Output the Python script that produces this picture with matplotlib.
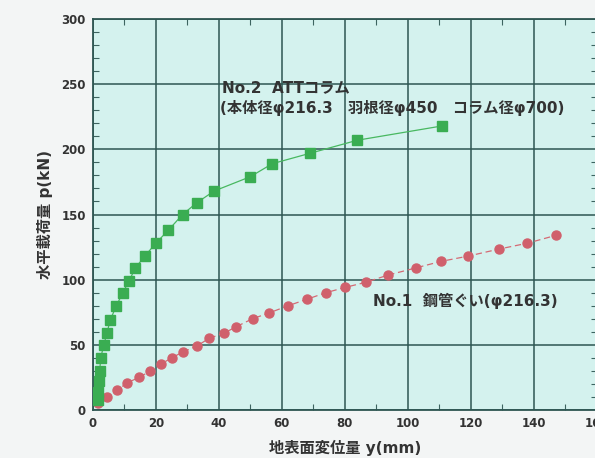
import matplotlib.pyplot as plt
import numpy as np
from matplotlib.ticker import MultipleLocator

plt.rcParams['font.family'] = ['DejaVu Sans', 'Noto Sans CJK JP']

# No.2 ATT column (green squares)
att_y = [1.5, 1.8, 2.0, 2.2, 2.5, 3.5, 4.5, 5.5, 7.5, 9.5, 11.5, 13.5, 16.5,
         20, 24, 28.5, 33, 38.5, 50, 57, 69, 84, 111]
att_p = [8, 14, 22, 30, 40, 50, 59, 69, 80, 90, 99, 109, 118,
         128, 138, 150, 159, 168, 179, 189, 197, 207, 218]

# No.1 steel pipe pile (red circles)
pipe_y = [1.5, 4.6, 7.6, 11, 14.7, 18.3, 21.5, 25, 28.6, 33, 36.9, 41.7, 45.6,
          50.7, 56, 62, 68, 74, 80, 86.7, 93.7, 102.5, 110.5, 119, 129, 138, 147]
pipe_p = [5, 10, 15, 21, 25, 30, 35, 40, 44.5, 49, 55, 59, 64,
          70, 74.5, 80, 85, 90, 94, 98, 103.5, 109, 114, 118, 123.5, 128, 134]

fig = plt.figure(figsize=(5.95, 4.58), dpi=100)
fig.patch.set_facecolor('#f3f5f5')
ax = fig.add_axes([0.156, 0.1048, 0.847, 0.8537])
ax.set_facecolor('#d4f2ee')

ax.plot(pipe_y, pipe_p, color='#d46a74', lw=0.9, ls=(0, (5, 3)),
        marker='o', ms=6.5, mfc='#d0606c', mec='#d0606c', zorder=3)
ax.plot(att_y, att_p, color='#48b860', lw=0.9,
        marker='s', ms=6.5, mfc='#3aad52', mec='#3aad52', zorder=3)

ax.set_xlim(0, 160)
ax.set_ylim(0, 300)
ax.xaxis.set_major_locator(MultipleLocator(20))
ax.yaxis.set_major_locator(MultipleLocator(50))
ax.xaxis.set_minor_locator(MultipleLocator(10))
ax.yaxis.set_minor_locator(MultipleLocator(10))
ax.grid(True, which='major', color='#2e5652', lw=1.1)
ax.tick_params(which='major', length=0, labelsize=8.5, labelcolor='#333333', pad=5)
ax.tick_params(which='minor', direction='in', length=4, width=0.8,
               color='#3d6460', top=True, right=True)
for s in ax.spines.values():
    s.set_color('#2e5652')
    s.set_linewidth(1.3)

for lab in ax.get_xticklabels() + ax.get_yticklabels():
    lab.set_fontweight('bold')

ax.set_xlabel('地表面変位量 y(mm)', fontsize=11, fontweight='bold',
              color='#333333', labelpad=7)
ax.set_ylabel('水平載荷量 p(kN)', fontsize=11, fontweight='bold',
              color='#333333', labelpad=6)

txt = dict(fontsize=11, color='#333333', va='center', fontweight='bold')
ax.text(41, 247, 'No.2  ATTコラム', **txt)
ax.text(40.5, 231.5, '(本体径φ216.3　羽根径φ450　コラム径φ700)', **txt)
ax.text(89, 84, 'No.1  鋼管ぐい(φ216.3)', **txt)

fig.savefig('out.png', dpi=100, facecolor=fig.get_facecolor())
